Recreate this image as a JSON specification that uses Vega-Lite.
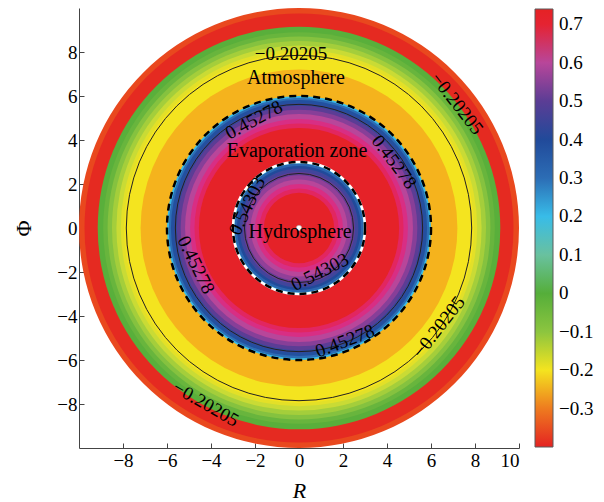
{
  "$schema": "https://vega.github.io/schema/vega-lite/v6.json",
  "width": 440,
  "height": 440,
  "autosize": {"type": "none"},
  "padding": {"left": 79, "top": 8, "right": 85, "bottom": 54},
  "background": "white",
  "config": {
    "font": "Liberation Serif",
    "view": {"stroke": null},
    "axis": {
      "grid": false,
      "domainColor": "#444444",
      "tickColor": "#444444",
      "tickSize": -5,
      "labelFontSize": 19,
      "labelColor": "black",
      "titleFontSize": 22,
      "titleColor": "black",
      "titleFontWeight": "normal"
    },
    "text": {"font": "Liberation Serif", "color": "black"}
  },
  "datasets": {
    "bands": [
      {"r": 10.0, "v": -0.35},
      {"r": 9.75, "v": -0.39},
      {"r": 9.15, "v": -0.01},
      {"r": 8.9, "v": -0.05},
      {"r": 8.7, "v": -0.09},
      {"r": 8.5, "v": -0.12},
      {"r": 8.3, "v": -0.15},
      {"r": 8.1, "v": -0.18},
      {"r": 7.95, "v": -0.2},
      {"r": 7.2, "v": -0.245},
      {"r": 6.0, "v": 0.2},
      {"r": 5.92, "v": 0.3},
      {"r": 5.82, "v": 0.38},
      {"r": 5.68, "v": 0.44},
      {"r": 5.55, "v": 0.5},
      {"r": 5.38, "v": 0.55},
      {"r": 5.18, "v": 0.6},
      {"r": 4.95, "v": 0.64},
      {"r": 4.75, "v": 0.67},
      {"r": 4.55, "v": 0.73},
      {"r": 3.0, "v": 0.2},
      {"r": 2.93, "v": 0.32},
      {"r": 2.82, "v": 0.4},
      {"r": 2.7, "v": 0.46},
      {"r": 2.55, "v": 0.51},
      {"r": 2.4, "v": 0.56},
      {"r": 2.2, "v": 0.6},
      {"r": 2.0, "v": 0.64},
      {"r": 1.8, "v": 0.67},
      {"r": 1.6, "v": 0.73}
    ],
    "contours": [
      {"level": -0.20205, "r": 7.85},
      {"level": 0.45278, "r": 5.62},
      {"level": 0.54303, "r": 2.48}
    ],
    "boundaries": [
      {"zone": "evaporation/atmosphere", "r": 6.0},
      {"zone": "hydrosphere/evaporation", "r": 3.0}
    ],
    "labels": [
      {"id": 1, "level": -0.20205, "x": -0.36, "y": 7.9},
      {"id": 2, "level": -0.20205, "x": 7.18, "y": 5.65},
      {"id": 3, "level": -0.20205, "x": 6.36, "y": -4.5},
      {"id": 4, "level": -0.20205, "x": -4.23, "y": -8.0},
      {"id": 5, "level": 0.45278, "x": -2.05, "y": 4.91},
      {"id": 6, "level": 0.45278, "x": 4.32, "y": 3.0},
      {"id": 7, "level": 0.45278, "x": -4.68, "y": -1.68},
      {"id": 8, "level": 0.45278, "x": 2.09, "y": -5.14},
      {"id": 9, "level": 0.54303, "x": -2.36, "y": 1.0},
      {"id": 10, "level": 0.54303, "x": 0.95, "y": -2.0}
    ],
    "zones": [
      {"name": "Atmosphere", "x": -0.14, "y": 6.8},
      {"name": "Evaporation zone", "x": -0.09, "y": 3.5},
      {"name": "Hydrosphere", "x": 0.05, "y": -0.18}
    ]
  },
  "layer": [
    {
      "data": {"name": "bands"},
      "mark": {"type": "point", "shape": "circle", "filled": true, "opacity": 1, "strokeWidth": 0},
      "encoding": {
        "x": {
          "datum": 0, "type": "quantitative",
          "scale": {"domain": [-10, 10], "nice": false, "zero": false},
          "axis": {"title": "R", "titleFontStyle": "italic", "values": [-8, -6, -4, -2, 0, 2, 4, 6, 8, 10], "labelPadding": 8, "titlePadding": 10}
        },
        "y": {
          "datum": 0, "type": "quantitative",
          "scale": {"domain": [-10, 10], "nice": false, "zero": false},
          "axis": {"title": "Φ", "values": [-8, -6, -4, -2, 0, 2, 4, 6, 8], "labelPadding": 7, "titlePadding": 21}
        },
        "size": {"field": "r", "type": "quantitative", "scale": {"type": "pow", "exponent": 2, "domain": [0, 10], "range": [0, 193600]}, "legend": null},
        "color": {
          "field": "v", "type": "quantitative",
          "scale": {
            "interpolate": "rgb",
            "domain": [-0.4, -0.35, -0.3, -0.25, -0.2, -0.15, -0.1, -0.05, 0, 0.05, 0.1, 0.15, 0.2, 0.25, 0.3, 0.35, 0.4, 0.45, 0.5, 0.55, 0.6, 0.65, 0.7, 0.74],
            "range": ["#E42322", "#E9481E", "#EE7B1F", "#F5AE1D", "#F4E41F", "#C9DB35", "#8CC53F", "#68B53D", "#55AE3A", "#5DB56A", "#69C19F", "#63C4C3", "#38BCE8", "#3293D0", "#2C6DB5", "#2658A6", "#214A9A", "#3A479C", "#5B3D95", "#873F98", "#B8469A", "#E0287E", "#E52332", "#E52224"]
          },
          "legend": {
            "title": null, "orient": "none", "legendX": 456, "legendY": 1, "direction": "vertical",
            "gradientLength": 438, "gradientThickness": 18,
            "gradientStrokeColor": "#5a5a5a", "gradientStrokeWidth": 1,
            "values": [-0.3, -0.2, -0.1, 0, 0.1, 0.2, 0.3, 0.4, 0.5, 0.6, 0.7],
            "format": "~g", "labelFontSize": 19, "labelColor": "black", "labelOffset": 6, "padding": 0
          }
        },
        "order": {"field": "r", "sort": "descending"}
      }
    },
    {
      "data": {"name": "contours"},
      "mark": {"type": "point", "shape": "circle", "filled": false, "opacity": 1, "stroke": "#222222", "strokeWidth": 1},
      "encoding": {
        "x": {"datum": 0, "type": "quantitative"},
        "y": {"datum": 0, "type": "quantitative"},
        "size": {"field": "r", "type": "quantitative", "legend": null}
      }
    },
    {
      "data": {"name": "boundaries"},
      "transform": [{"filter": "datum.r < 4"}],
      "mark": {"type": "point", "shape": "circle", "filled": false, "opacity": 1, "stroke": "white", "strokeWidth": 2.5},
      "encoding": {
        "x": {"datum": 0, "type": "quantitative"},
        "y": {"datum": 0, "type": "quantitative"},
        "size": {"field": "r", "type": "quantitative", "legend": null}
      }
    },
    {
      "data": {"name": "boundaries"},
      "mark": {"type": "point", "shape": "circle", "filled": false, "opacity": 1, "stroke": "black", "strokeWidth": 2.5, "strokeDash": [7, 5]},
      "encoding": {
        "x": {"datum": 0, "type": "quantitative"},
        "y": {"datum": 0, "type": "quantitative"},
        "size": {"field": "r", "type": "quantitative", "legend": null}
      }
    },
    {
      "data": {"values": [{"point": "centre"}]},
      "mark": {"type": "point", "shape": "circle", "filled": true, "opacity": 1, "fill": "white", "size": 30, "stroke": "#999999", "strokeWidth": 0.5},
      "encoding": {
        "x": {"datum": 0, "type": "quantitative"},
        "y": {"datum": 0, "type": "quantitative"}
      }
    },
    {
      "data": {"name": "labels"},
      "transform": [{"filter": "datum.id == 1"}],
      "mark": {"type": "text", "fontSize": 19, "angle": 0, "align": "center", "baseline": "middle"},
      "encoding": {
        "x": {"field": "x", "type": "quantitative"},
        "y": {"field": "y", "type": "quantitative"},
        "text": {"field": "level", "type": "quantitative", "format": "~g"}
      }
    },
    {
      "data": {"name": "labels"},
      "transform": [{"filter": "datum.id == 2"}],
      "mark": {"type": "text", "fontSize": 19, "angle": 52, "align": "center", "baseline": "middle"},
      "encoding": {
        "x": {"field": "x", "type": "quantitative"},
        "y": {"field": "y", "type": "quantitative"},
        "text": {"field": "level", "type": "quantitative", "format": "~g"}
      }
    },
    {
      "data": {"name": "labels"},
      "transform": [{"filter": "datum.id == 3"}],
      "mark": {"type": "text", "fontSize": 19, "angle": -52, "align": "center", "baseline": "middle"},
      "encoding": {
        "x": {"field": "x", "type": "quantitative"},
        "y": {"field": "y", "type": "quantitative"},
        "text": {"field": "level", "type": "quantitative", "format": "~g"}
      }
    },
    {
      "data": {"name": "labels"},
      "transform": [{"filter": "datum.id == 4"}],
      "mark": {"type": "text", "fontSize": 19, "angle": 30, "align": "center", "baseline": "middle"},
      "encoding": {
        "x": {"field": "x", "type": "quantitative"},
        "y": {"field": "y", "type": "quantitative"},
        "text": {"field": "level", "type": "quantitative", "format": "~g"}
      }
    },
    {
      "data": {"name": "labels"},
      "transform": [{"filter": "datum.id == 5"}],
      "mark": {"type": "text", "fontSize": 19, "angle": -28, "align": "center", "baseline": "middle"},
      "encoding": {
        "x": {"field": "x", "type": "quantitative"},
        "y": {"field": "y", "type": "quantitative"},
        "text": {"field": "level", "type": "quantitative", "format": "~g"}
      }
    },
    {
      "data": {"name": "labels"},
      "transform": [{"filter": "datum.id == 6"}],
      "mark": {"type": "text", "fontSize": 19, "angle": 53, "align": "center", "baseline": "middle"},
      "encoding": {
        "x": {"field": "x", "type": "quantitative"},
        "y": {"field": "y", "type": "quantitative"},
        "text": {"field": "level", "type": "quantitative", "format": "~g"}
      }
    },
    {
      "data": {"name": "labels"},
      "transform": [{"filter": "datum.id == 7"}],
      "mark": {"type": "text", "fontSize": 19, "angle": 64, "align": "center", "baseline": "middle"},
      "encoding": {
        "x": {"field": "x", "type": "quantitative"},
        "y": {"field": "y", "type": "quantitative"},
        "text": {"field": "level", "type": "quantitative", "format": "~g"}
      }
    },
    {
      "data": {"name": "labels"},
      "transform": [{"filter": "datum.id == 8"}],
      "mark": {"type": "text", "fontSize": 19, "angle": -21, "align": "center", "baseline": "middle"},
      "encoding": {
        "x": {"field": "x", "type": "quantitative"},
        "y": {"field": "y", "type": "quantitative"},
        "text": {"field": "level", "type": "quantitative", "format": "~g"}
      }
    },
    {
      "data": {"name": "labels"},
      "transform": [{"filter": "datum.id == 9"}],
      "mark": {"type": "text", "fontSize": 19, "angle": -65, "align": "center", "baseline": "middle"},
      "encoding": {
        "x": {"field": "x", "type": "quantitative"},
        "y": {"field": "y", "type": "quantitative"},
        "text": {"field": "level", "type": "quantitative", "format": "~g"}
      }
    },
    {
      "data": {"name": "labels"},
      "transform": [{"filter": "datum.id == 10"}],
      "mark": {"type": "text", "fontSize": 19, "angle": -27, "align": "center", "baseline": "middle"},
      "encoding": {
        "x": {"field": "x", "type": "quantitative"},
        "y": {"field": "y", "type": "quantitative"},
        "text": {"field": "level", "type": "quantitative", "format": "~g"}
      }
    },
    {
      "data": {"name": "zones"},
      "mark": {"type": "text", "fontSize": 20, "align": "center", "baseline": "middle"},
      "encoding": {
        "x": {"field": "x", "type": "quantitative"},
        "y": {"field": "y", "type": "quantitative"},
        "text": {"field": "name", "type": "nominal"}
      }
    }
  ]
}
